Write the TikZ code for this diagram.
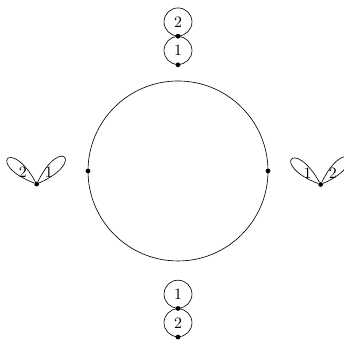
\documentclass[tikz,border=0pt]{standalone}
\usetikzlibrary{positioning}
\tikzset{dot/.style={circle, fill, inner sep=0pt, minimum size=3pt}, num/.style={circle, draw, inner sep=.3333em}, petal/.style={line width=.4pt}}

\begin{document}
\begin{tikzpicture}
\useasboundingbox (-3.956,-3.8) rectangle (3.689,3.8);
\draw (0,0) circle (2);
\node[dot] (w) at (-2,0) {}; \node[dot] (e) at (2,0) {};
% top stack
\node[dot] (t1) at (0,2.36) {};
\node[num,anchor=south] (top1) at (t1) {1};
\node[dot] (t2) at (top1.north) {};
\node[num,anchor=south] (top2) at (t2) {2};
% bottom stack
\node[num,anchor=north] (bot1) at (0,-2.42) {1};
\node[dot] (b1) at (bot1.south) {};
\node[num,anchor=north] (bot2) at (b1) {2};
\node[dot] (b2) at (bot2.south) {};
% left petals
\node[dot] (l) at (-3.14,-0.29) {};
\draw[petal] (l) .. controls +(119:1.2) and +(159:1.2) .. (l);
\draw[petal] (l) .. controls +(24:1.2) and +(64:1.2) .. (l);
\node (l2) at ([shift={(-0.31,0.26)}]l) {2};
\node (l1) at ([shift={(0.27,0.26)}]l) {1};
% right petals
\node[dot] (r) at (3.17,-0.3) {};
\draw[petal] (r) .. controls +(119:1.2) and +(159:1.2) .. (r);
\draw[petal] (r) .. controls +(24:1.2) and +(64:1.2) .. (r);
\node (r1) at ([shift={(-0.29,0.26)}]r) {1};
\node (r2) at ([shift={(0.27,0.26)}]r) {2};
\end{tikzpicture}
\end{document}
